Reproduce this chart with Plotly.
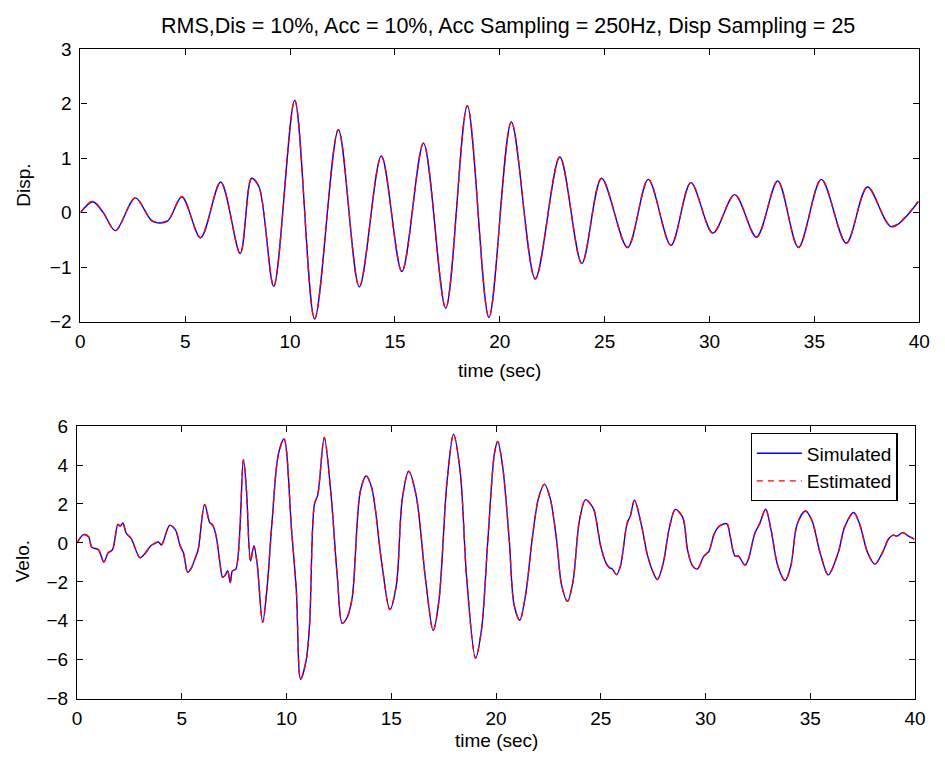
import plotly.graph_objects as go

# ---------------- data ----------------
disp_t = [0.0, 0.59, 1.09, 1.67, 2.62, 3.44, 4.14, 4.84, 5.73, 6.69, 7.62, 8.16, 8.52,
          9.22, 10.22, 11.17, 12.30, 13.30, 14.35, 15.33, 16.36, 17.42, 18.45, 19.48,
          20.55, 21.69, 22.86, 23.91, 24.85, 26.09, 27.08, 28.16, 29.11, 30.16, 31.20,
          32.24, 33.25, 34.24, 35.33, 36.52, 37.53, 38.68, 39.95]
disp_sim = [0.0, 0.20, 0.0, -0.33, 0.27, -0.16, -0.16, 0.29, -0.46, 0.56, -0.75, 0.63, 0.47,
            -1.35, 2.06, -1.95, 1.52, -1.36, 1.04, -1.08, 1.27, -1.75, 1.96, -1.92,
            1.66, -1.21, 1.02, -0.93, 0.63, -0.64, 0.61, -0.60, 0.55, -0.375, 0.33,
            -0.45, 0.58, -0.64, 0.61, -0.56, 0.47, -0.26, 0.20]
disp_est = [0.0, 0.21, 0.0, -0.33, 0.27, -0.15, -0.15, 0.29, -0.46, 0.56, -0.75, 0.63, 0.47,
            -1.35, 2.06, -1.95, 1.52, -1.36, 1.03, -1.08, 1.27, -1.75, 1.96, -1.92,
            1.66, -1.22, 1.02, -0.93, 0.63, -0.64, 0.61, -0.60, 0.55, -0.375, 0.33,
            -0.45, 0.58, -0.64, 0.61, -0.56, 0.47, -0.25, 0.21]

velo_t = [0.0, 0.31, 0.55, 0.70, 1.02, 1.28, 1.48, 1.69, 1.95, 2.06, 2.19, 2.34, 2.58,
          3.00, 3.20, 3.52, 3.67, 3.88, 4.03, 4.42, 4.69, 4.92, 5.08, 5.28, 5.47, 5.63,
          5.78, 6.09, 6.33, 6.48, 6.64, 6.80, 6.95, 7.06, 7.19, 7.31, 7.42, 7.58, 7.94,
          8.09, 8.28, 8.44, 8.59, 8.86, 9.06, 9.30, 9.61, 9.88, 10.24, 10.47, 10.67,
          10.94, 11.10, 11.33, 11.49, 11.80, 12.11, 12.43, 12.66, 12.89, 13.13, 13.52,
          13.80, 14.07, 14.54, 14.93, 15.24, 15.52, 15.83, 16.18, 16.65, 17.00, 17.27,
          17.66, 17.97, 18.29, 18.60, 19.02, 19.30, 19.61, 19.93, 20.08, 20.31, 20.63,
          20.86, 21.13, 21.41, 21.72, 22.03, 22.31, 22.58, 22.89, 23.13, 23.41, 23.67,
          23.98, 24.27, 24.53, 24.69, 25.00, 25.24, 25.40, 25.55, 25.75, 25.94, 26.25,
          26.41, 26.61, 26.96, 27.22, 27.50, 27.70, 27.97, 28.28, 28.56, 28.91, 29.14,
          29.38, 29.61, 29.92, 30.16, 30.39, 30.55, 30.71, 31.02, 31.18, 31.41, 31.57,
          31.88, 32.04, 32.35, 32.58, 32.87, 33.13, 33.45, 33.80, 34.07, 34.38, 34.77,
          35.08, 35.47, 35.86, 36.33, 36.64, 37.07, 37.35, 37.74, 38.08, 38.44, 38.75,
          38.96, 39.14, 39.41, 39.69, 39.96]
velo_sim = [0.0, 0.43, 0.32, -0.22, -0.35, -0.98, -0.51, -0.35, 0.95, 0.86, 1.03, 0.51, 0.23,
            -0.76, -0.60, -0.15, -0.05, 0.05, -0.10, 0.90, 0.68, -0.15, -0.51, -1.51, -1.26,
            -0.81, -0.35, 1.98, 1.06, 0.90, 0.35, -0.85, -1.76, -1.68, -1.43, -2.04, -1.43,
            -1.34, 4.27, 2.64, -0.93, -0.15, -1.01, -4.08, -2.42, 0.98, 4.55, 5.34, 0.65,
            -2.51, -7.0, -6.0, -4.17, 1.98, 2.47, 5.41, 2.64, -1.84, -4.13, -3.83, -2.84,
            2.64, 3.44, 2.81, -1.0, -3.42, -2.18, 2.22, 3.68, 2.47, -2.01, -4.5, -3.0,
            3.14, 5.58, 3.64, -1.84, -5.91, -4.5, 0.15, 4.63, 5.21, 3.97, 0.15,
            -3.17, -3.97, -2.67, 0.15, 2.31, 3.02, 2.31, 0.15, -2.17, -3.0, -2.0,
            1.15, 2.22, 1.97, 1.64, -0.18, -1.01, -1.26, -1.34, -1.63, -1.18, 0.98,
            1.39, 2.19, 0.81, -0.60, -1.51, -1.88, -1.09, 0.81, 1.72, 1.31, -0.35,
            -1.18, -1.34, -0.68, -0.43, 0.40, 0.73, 0.90, 0.98, 0.32, -0.68, -0.68,
            -1.14, -0.85, 0.48, 0.98, 1.73, 0.65, -1.18, -1.93, -1.18, 0.98, 1.64,
            1.15, -0.51, -1.64, -0.51, 0.81, 1.56, 0.98, -0.51, -1.09, -0.51, 0.23,
            0.40, 0.35, 0.53, 0.35, 0.20]
velo_est = list(velo_sim)

disp_ticks = [-2, -1, 0, 1, 2, 3]
velo_ticks = [-8, -6, -4, -2, 0, 2, 4, 6]
time_ticks = [0, 5, 10, 15, 20, 25, 30, 35, 40]

TITLE = "RMS,Dis = 10%, Acc = 10%, Acc Sampling = 250Hz, Disp Sampling = 25"

# ---------------- figure ----------------
W, H = 945, 772
FONT = "Liberation Sans, Arial, Helvetica, sans-serif"
FS = 19

fig = go.Figure()

def add_pair(t, sim, est, xa, ya, show):
    fig.add_trace(go.Scatter(x=t, y=sim, mode="lines", name="Simulated",
                             line=dict(color="#0000ff", width=1.4, shape="spline", smoothing=0.9),
                             xaxis=xa, yaxis=ya, showlegend=show))
    fig.add_trace(go.Scatter(x=t, y=est, mode="lines", name="Estimated",
                             line=dict(color="#ff0000", width=1.4, dash="6px,5px",
                                       shape="spline", smoothing=0.9),
                             xaxis=xa, yaxis=ya, showlegend=show))

add_pair(disp_t, disp_sim, disp_est, "x", "y", False)
add_pair(velo_t, velo_sim, velo_est, "x2", "y2", True)

# axes pixel boxes
top_x = [76.7 / W, 930.0 / W]
bot_x = [73.3 / W, 925.7 / W]
top_y = [1 - 320.5 / H, 1 - 40.0 / H]
bot_y = [1 - 708.0 / H, 1 - 427.7 / H]

axis_common = dict(showline=True, linecolor="black", linewidth=1.2, mirror="ticks",
                   ticks="inside", ticklen=6, tickcolor="black", tickwidth=1,
                   showgrid=False, zeroline=False,
                   tickfont=dict(family=FONT, size=FS, color="black"))

fig.update_layout(
    width=W, height=H, autosize=False,
    margin=dict(l=0, r=0, t=0, b=0),
    paper_bgcolor="white", plot_bgcolor="white",
    font=dict(family=FONT, size=FS, color="black"),
    xaxis=dict(domain=top_x, anchor="y", range=[0, 40], tickvals=time_ticks,
               ticklabelstandoff=2, **axis_common),
    yaxis=dict(domain=top_y, anchor="x", range=[-2, 3], tickvals=disp_ticks,
               ticklabelstandoff=4, **axis_common),
    xaxis2=dict(domain=bot_x, anchor="y2", range=[0, 40], tickvals=time_ticks,
                ticklabelstandoff=2, **axis_common),
    yaxis2=dict(domain=bot_y, anchor="x2", range=[-8, 6], tickvals=velo_ticks,
                ticklabelstandoff=4, **axis_common),
    legend=dict(x=908 / W, y=1 - 435 / H, xanchor="right", yanchor="top",
                bgcolor="white", bordercolor="black", borderwidth=1.2,
                font=dict(family=FONT, size=FS, color="black"),
                tracegroupgap=0, itemwidth=45),
    showlegend=True,
)

ann = [
    dict(text=TITLE, x=(top_x[0] + top_x[1]) / 2 + 8 / W, y=1 - 16 / H, xanchor="center",
         yanchor="middle", font=dict(family=FONT, size=21.5, color="black")),
    dict(text="time (sec)", x=(top_x[0] + top_x[1]) / 2, y=1 - 371 / H, xanchor="center", yanchor="middle"),
    dict(text="time (sec)", x=(bot_x[0] + bot_x[1]) / 2, y=1 - 751 / H, xanchor="center", yanchor="middle"),
    dict(text="Disp.", x=18 / W, y=1 - 180 / H, xanchor="center", yanchor="middle", textangle=-90),
    dict(text="Velo.", x=18 / W, y=1 - 567 / H, xanchor="center", yanchor="middle", textangle=-90),
]
for a in ann:
    a.setdefault("font", dict(family=FONT, size=FS, color="black"))
    fig.add_annotation(xref="paper", yref="paper", showarrow=False, **a)

fig.write_html("out.html")
